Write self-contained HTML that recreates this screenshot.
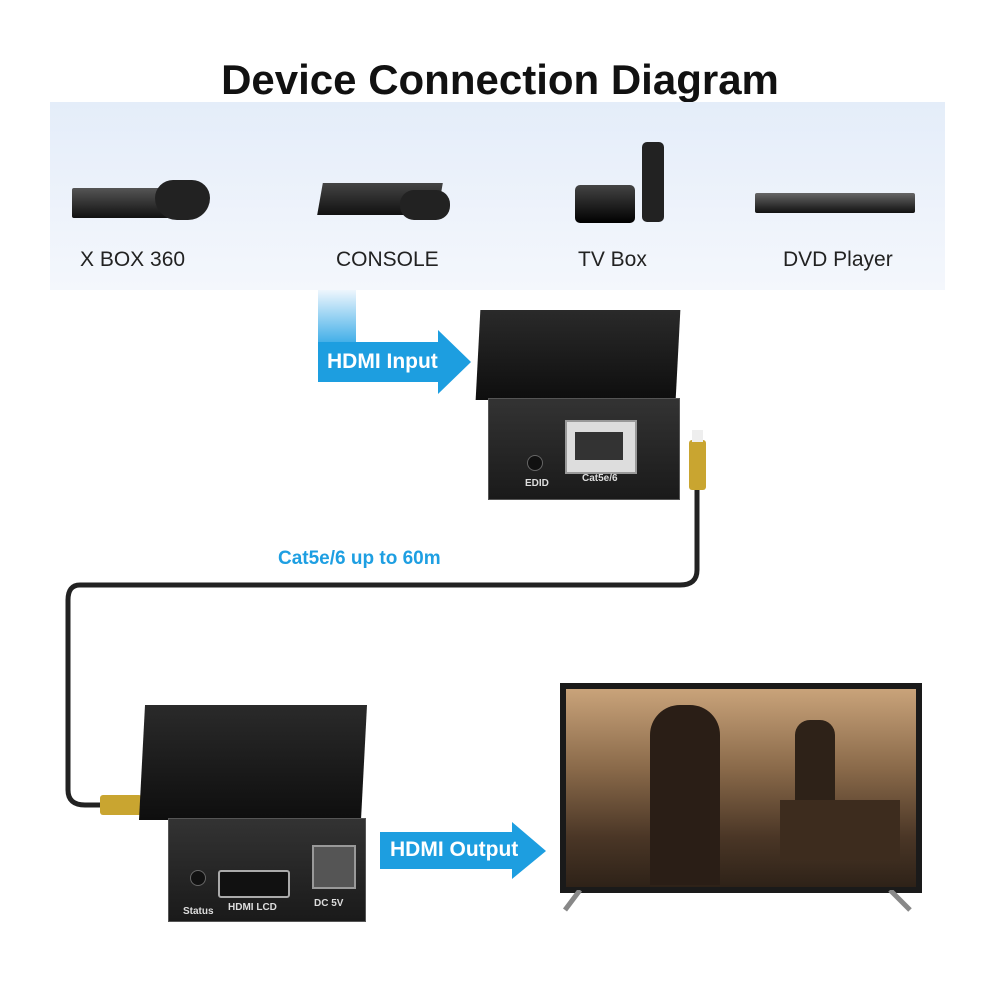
<!DOCTYPE html>
<html><head><meta charset="utf-8"><style>
body{margin:0;width:1000px;height:1000px;background:#fff;position:relative;overflow:hidden;font-family:"Liberation Sans",sans-serif}
.a{position:absolute}
.lbl{position:absolute;font-size:21px;color:#222;top:248px}
</style></head><body>
<div class="a" style="left:0;top:56px;width:1000px;text-align:center;font-size:42px;font-weight:bold;color:#111">Device Connection Diagram</div>
<div class="a" style="left:50px;top:102px;width:895px;height:188px;background:linear-gradient(180deg,#e4edf9 0%,#eef3fb 60%,#f4f7fc 100%)"></div>
<!-- devices -->
<div class="a" style="left:72px;top:188px;width:110px;height:30px;background:linear-gradient(#555,#111);border-radius:2px"></div>
<div class="a" style="left:155px;top:180px;width:55px;height:40px;background:#222;border-radius:18px 18px 22px 22px"></div>
<div class="a" style="left:320px;top:183px;width:120px;height:32px;background:linear-gradient(#444,#111);transform:skewX(-10deg)"></div>
<div class="a" style="left:400px;top:190px;width:50px;height:30px;background:#222;border-radius:14px"></div>
<div class="a" style="left:575px;top:185px;width:60px;height:38px;background:linear-gradient(#444,#000);border-radius:5px"></div>
<div class="a" style="left:642px;top:142px;width:22px;height:80px;background:#222;border-radius:5px"></div>
<div class="a" style="left:755px;top:193px;width:160px;height:20px;background:linear-gradient(#666,#111);border-radius:2px"></div>
<div class="lbl" style="left:80px">X BOX 360</div>
<div class="lbl" style="left:336px">CONSOLE</div>
<div class="lbl" style="left:578px">TV Box</div>
<div class="lbl" style="left:783px">DVD Player</div>
<!-- HDMI input arrow -->
<div class="a" style="left:318px;top:290px;width:38px;height:60px;background:linear-gradient(180deg,#eef6fd,#2aa5e5)"></div>
<svg class="a" style="left:318px;top:330px" width="155" height="65"><polygon points="0,12 120,12 120,0 153,32 120,64 120,52 0,52" fill="#1d9ee0"/></svg>
<div class="a" style="left:327px;top:350px;font-size:21px;font-weight:bold;color:#fff">HDMI Input</div>
<!-- sender -->
<div class="a" style="left:478px;top:310px;width:200px;height:90px;background:linear-gradient(#2a2a2a,#0e0e0e);transform:skewX(-3deg)"></div>
<div class="a" style="left:488px;top:398px;width:190px;height:100px;background:linear-gradient(#333,#1a1a1a);border:1px solid #555"></div>
<div class="a" style="left:565px;top:420px;width:68px;height:50px;background:#ddd;border:2px solid #999"></div>
<div class="a" style="left:575px;top:432px;width:48px;height:28px;background:#333"></div>
<div class="a" style="left:527px;top:455px;width:14px;height:14px;background:#111;border-radius:50%;border:1px solid #666"></div>
<div class="a" style="left:525px;top:478px;font-size:10px;color:#ddd;font-weight:bold">EDID</div>
<div class="a" style="left:582px;top:473px;font-size:10px;color:#ddd;font-weight:bold">Cat5e/6</div>
<!-- cable -->
<svg class="a" style="left:0;top:0" width="1000" height="1000">
<path d="M697 490 L697 570 Q697 585 680 585 L80 585 Q68 585 68 600 L68 790 Q68 805 85 805 L100 805" fill="none" stroke="#222" stroke-width="5"/>
<rect x="689" y="440" width="17" height="50" fill="#c9a530" rx="3"/>
<rect x="692" y="430" width="11" height="12" fill="#eee"/>
<rect x="100" y="795" width="42" height="20" fill="#c9a530" rx="3"/>
</svg>
<div class="a" style="left:278px;top:548px;font-size:19px;font-weight:bold;color:#1e9fe2">Cat5e/6 up to 60m</div>
<!-- receiver -->
<div class="a" style="left:142px;top:705px;width:222px;height:115px;background:linear-gradient(#2a2a2a,#0e0e0e);transform:skewX(-3deg)"></div>
<div class="a" style="left:168px;top:818px;width:196px;height:102px;background:linear-gradient(#333,#1a1a1a);border:1px solid #555"></div>
<div class="a" style="left:218px;top:870px;width:68px;height:24px;background:#111;border:2px solid #aaa;border-radius:3px"></div>
<div class="a" style="left:312px;top:845px;width:40px;height:40px;background:#555;border:2px solid #999"></div>
<div class="a" style="left:190px;top:870px;width:14px;height:14px;background:#111;border-radius:50%;border:1px solid #666"></div>
<div class="a" style="left:183px;top:906px;font-size:10px;color:#ddd;font-weight:bold">Status</div>
<div class="a" style="left:228px;top:902px;font-size:10px;color:#ddd;font-weight:bold">HDMI LCD</div>
<div class="a" style="left:314px;top:898px;font-size:10px;color:#ddd;font-weight:bold">DC 5V</div>
<!-- HDMI output arrow -->
<svg class="a" style="left:380px;top:822px" width="170" height="58"><polygon points="0,10 132,10 132,0 166,29 132,57 132,47 0,47" fill="#1d9ee0"/></svg>
<div class="a" style="left:390px;top:838px;font-size:21px;font-weight:bold;color:#fff">HDMI Output</div>
<!-- TV -->
<div class="a" style="left:560px;top:683px;width:362px;height:210px;background:#1a1a1a"></div>
<div class="a" style="left:566px;top:689px;width:350px;height:198px;background:linear-gradient(180deg,#c9a37a 0%,#8a6a4a 40%,#4a3626 75%,#2e2218 100%)"></div>
<div class="a" style="left:650px;top:705px;width:70px;height:180px;background:#2a1e16;border-radius:30px 30px 0 0"></div>
<div class="a" style="left:780px;top:800px;width:120px;height:60px;background:#3d2c1e"></div>
<div class="a" style="left:795px;top:720px;width:40px;height:80px;background:#2e2218;border-radius:15px 15px 0 0"></div>
<svg class="a" style="left:560px;top:890px" width="362" height="25"><path d="M20 0 L5 20 M330 0 L350 20" stroke="#888" stroke-width="5"/></svg>
</body></html>
